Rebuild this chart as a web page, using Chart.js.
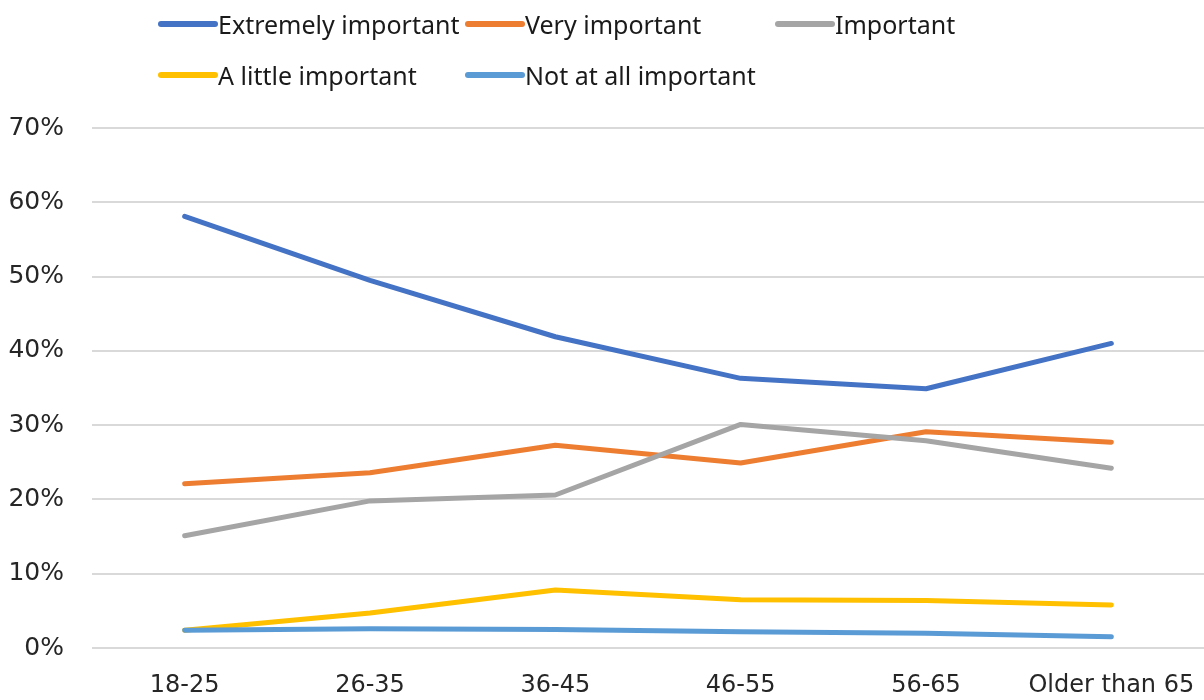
<!DOCTYPE html>
<html>
<head>
<meta charset="utf-8">
<script src="https://cdn.jsdelivr.net/npm/chart.js@4"></script>
<style>
  html, body { margin: 0; padding: 0; background: #fff; }
  #wrap { position: relative; width: 1204px; height: 700px; }
  #chart { position: absolute; left: 0; top: 0; }
  .legend { position: absolute; left: 0; top: 0; font-family: "Noto Sans", sans-serif; font-size: 25px; color: #1a1a1a; }
  .legend .item { position: absolute; display: flex; align-items: center; white-space: nowrap; }
  .legend .swatch { width: 60px; height: 6px; border-radius: 3px; }
</style>
</head>
<body>
<div id="wrap">
  <canvas id="chart" width="1204" height="700"></canvas>
  <div class="legend" id="legend"></div>
</div>
<script>
const ageGroups = ['18-25', '26-35', '36-45', '46-55', '56-65', 'Older than 65'];
const seriesNames = ['Extremely important', 'Very important', 'Important', 'A little important', 'Not at all important'];
const extremelyImportant = [58.1, 49.5, 41.9, 36.3, 34.9, 41.0];
const veryImportant = [22.1, 23.6, 27.3, 24.9, 29.1, 27.7];
const important = [15.1, 19.8, 20.6, 30.1, 27.9, 24.2];
const littleImportant = [2.4, 4.7, 7.8, 6.5, 6.4, 5.8];
const notImportant = [2.4, 2.6, 2.5, 2.2, 2.0, 1.5];
const yTicks = [0, 10, 20, 30, 40, 50, 60, 70];

const colors = ['#4472C4', '#ED7D31', '#A5A5A5', '#FFC000', '#5B9BD5'];
const values = [extremelyImportant, veryImportant, important, littleImportant, notImportant];

/* legend laid out in columns, two rows */
const legendPos = [[158, 24], [465, 24], [775, 24], [158, 75], [465, 75]];
const legend = document.getElementById('legend');
seriesNames.forEach((name, i) => {
  const item = document.createElement('div');
  item.className = 'item';
  item.style.left = legendPos[i][0] + 'px';
  item.style.top = (legendPos[i][1] - 16) + 'px';
  item.style.height = '32px';
  item.innerHTML = `<span class="swatch" style="background:${colors[i]}"></span><span>${name}</span>`;
  legend.appendChild(item);
});

new Chart(document.getElementById('chart'), {
  type: 'line',
  data: {
    labels: ageGroups,
    datasets: seriesNames.map((name, i) => ({
      label: name,
      data: values[i],
      borderColor: colors[i],
      backgroundColor: colors[i],
      borderWidth: 5,
      borderCapStyle: 'round',
      borderJoinStyle: 'round',
      pointRadius: 0,
      tension: 0,
      order: 5 - i
    }))
  },
  options: {
    responsive: false,
    animation: false,
    layout: { padding: { top: 128, right: 0, bottom: 0, left: 0 } },
    plugins: { legend: { display: false }, tooltip: { enabled: false } },
    scales: {
      x: {
        offset: true,
        afterFit: s => { s.height = 52; },
        // tick marks are hidden, their length only pushes the labels down
        grid: { display: false, drawTicks: true, tickLength: 20 },
        border: { display: false },
        ticks: { color: '#262626', font: { family: 'DejaVu Sans', size: 24 }, padding: 3, maxRotation: 0 }
      },
      y: {
        min: 0, max: 70,
        afterBuildTicks: s => { s.ticks = yTicks.map(v => ({ value: v })); },
        afterFit: s => { s.width = 92; },
        grid: { color: '#d9d9d9', lineWidth: 2, drawTicks: false },
        border: { display: false },
        ticks: { color: '#262626', font: { family: 'DejaVu Sans', size: 25 }, padding: 28, callback: v => v + '%' }
      }
    }
  }
});
</script>
</body>
</html>
